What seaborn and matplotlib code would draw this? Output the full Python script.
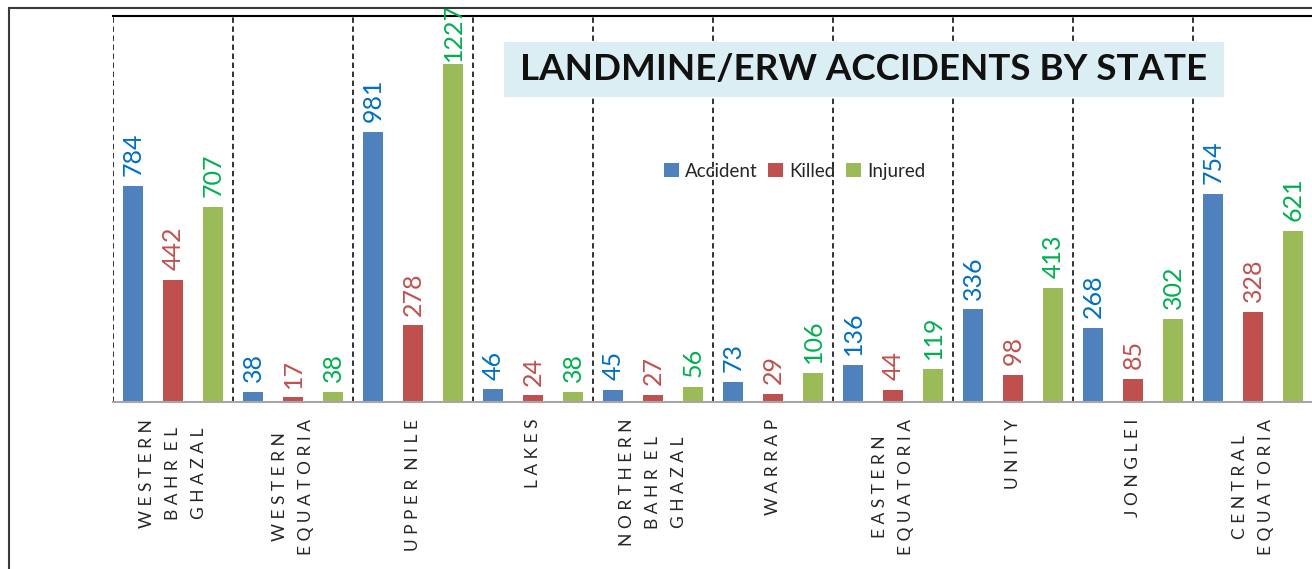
import pandas as pd
import matplotlib
matplotlib.use('Agg')
import matplotlib.pyplot as plt
from matplotlib.patches import Rectangle
import seaborn as sns

# Data
states = ['WESTERN\nBAHR EL\nGHAZAL', 'WESTERN\nEQUATORIA', 'UPPER NILE', 'LAKES',
          'NORTHERN\nBAHR EL\nGHAZAL', 'WARRAP', 'EASTERN\nEQUATORIA', 'UNITY',
          'JONGLEI', 'CENTRAL\nEQUATORIA']
accident = [784, 38, 981, 46, 45, 73, 136, 336, 268, 754]
killed = [442, 17, 278, 24, 27, 29, 44, 98, 85, 328]
injured = [707, 38, 1227, 38, 56, 106, 119, 413, 302, 621]
types = ['Accident', 'Killed', 'Injured']

bar_colors = ['#4F81BD', '#C0504D', '#9BBB59']
text_colors = ['#0070C0', '#C0504D', '#00B050']

df = pd.DataFrame({
    'State': states * 3,
    'Type': [t for t in types for _ in states],
    'Count': accident + killed + injured,
})

sns.set_style('white')
plt.rcParams['font.family'] = ['Lato', 'DejaVu Sans']

fig = plt.figure(figsize=(13.12, 5.69), dpi=100)
ax = fig.add_axes([113 / 1312, 1 - 402 / 569, 1200 / 1312, 386 / 569])

# outer frame of the chart area
fig.patches.append(Rectangle((9 / 1312, -0.1), 1.2, 0.1 + (569 - 8) / 569,
                             transform=fig.transFigure, fill=False,
                             ec='#3a3a3a', lw=1.5))

# dashed separators between states
for i in range(len(states)):
    ax.axvline(i - 0.5, color='#222222', ls=(0, (3, 2)), lw=1.3, zorder=0)

sns.barplot(data=df, x='State', y='Count', hue='Type', order=states,
            hue_order=types, palette=bar_colors, saturation=1,
            width=1.0, gap=0.5, ax=ax, linewidth=0)

ymax = 1400
for cont, c in zip(ax.containers, text_colors):
    labels = ax.bar_label(cont, rotation=90, padding=7, color=c, fontsize=18)
    for bar, lab in zip(cont, labels):
        # the tallest label gets squeezed against the top like in the original
        if bar.get_height() > 0.85 * ymax:
            lab.xyann = (0, 2)
            lab.set_clip_on(False)

ax.set_xlim(-0.5, 9.5)
ax.set_ylim(0, ymax)
ax.set_yticks([])
ax.set_xlabel('')
ax.set_ylabel('')


def spaced(name):
    return '\n'.join('  '.join(' '.join(w) for w in line.split(' '))
                     for line in name.split('\n'))


ax.set_xticks(range(len(states)))
ax.set_xticklabels([spaced(s) for s in states], rotation=90, fontsize=12.5,
                   ha='center', va='top', multialignment='center',
                   linespacing=1.75)
ax.tick_params(axis='x', length=0, pad=12)

ax.spines['left'].set_visible(False)
ax.spines['right'].set_visible(False)
ax.spines['top'].set_color('black')
ax.spines['top'].set_linewidth(1.5)
ax.spines['bottom'].set_color('#a6a6a6')
ax.spines['bottom'].set_linewidth(1.5)

ax.legend(loc='center', bbox_to_anchor=(0.568, 0.598), ncol=3, frameon=False,
          fontsize=13.5, handlelength=0.8, handleheight=0.8,
          handletextpad=0.3, columnspacing=0.6)

# title box
fig.patches.append(Rectangle((504 / 1312, 1 - 97 / 569), 720 / 1312, 55 / 569,
                             transform=fig.transFigure, fc='#DBEEF3', ec='none',
                             zorder=5))
fig.text(864 / 1312, 1 - 70 / 569, 'LANDMINE/ERW ACCIDENTS BY STATE',
         ha='center', va='center', fontsize=26.5, fontweight='bold',
         color='#111111', zorder=6)

fig.savefig('out.png', dpi=100)
